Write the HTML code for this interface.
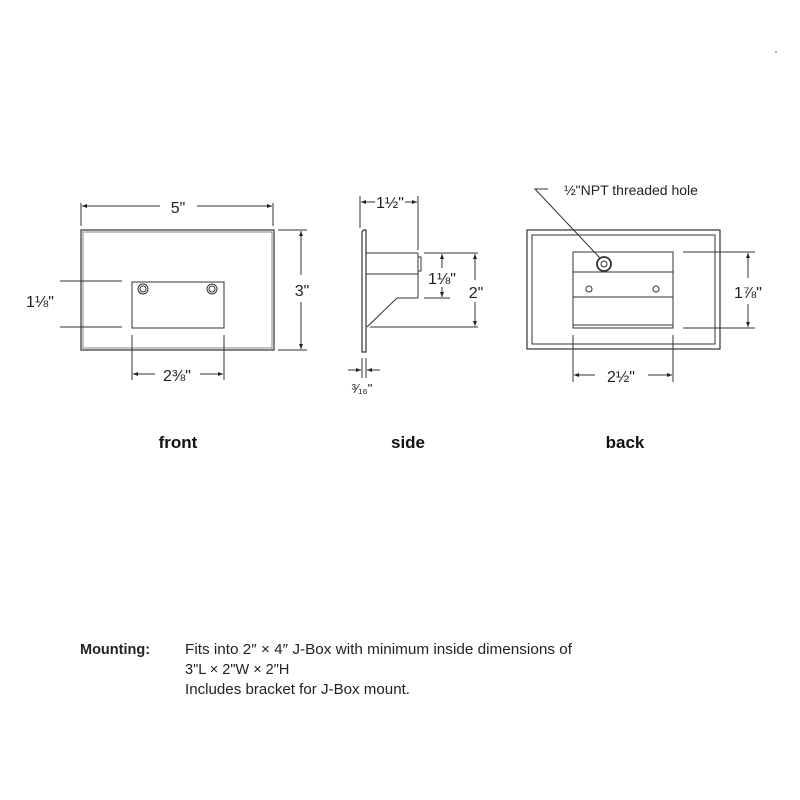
<!DOCTYPE html>
<html><head><meta charset="utf-8"><style>html,body{margin:0;padding:0;background:#fff}svg{display:block}</style></head><body>
<svg width="800" height="800" viewBox="0 0 800 800" xmlns="http://www.w3.org/2000/svg" font-family="Liberation Sans, sans-serif">
<defs>
<marker id="a" viewBox="0 0 10 10" refX="10" refY="5" markerWidth="7" markerHeight="5" orient="auto-start-reverse"><path d="M0,1 L10,5 L0,9 z" fill="#222"/></marker>
</defs>
<g stroke="#333" fill="none" stroke-width="1">
<rect x="81" y="230" width="193" height="120" stroke-width="1.2"/>
<rect x="83" y="232" width="189" height="116" stroke="#888" stroke-width="1"/>
<rect x="132" y="282" width="92" height="46"/>
<circle cx="143" cy="289" r="5"/><circle cx="143" cy="289" r="3"/>
<circle cx="212" cy="289" r="5"/><circle cx="212" cy="289" r="3"/>
<line x1="81" y1="203" x2="81" y2="226"/><line x1="273" y1="203" x2="273" y2="226"/>
<line x1="82" y1="206" x2="160" y2="206" marker-start="url(#a)"/>
<line x1="197" y1="206" x2="272" y2="206" marker-end="url(#a)"/>
<line x1="278" y1="230" x2="307" y2="230"/><line x1="278" y1="350" x2="307" y2="350"/>
<line x1="301" y1="231" x2="301" y2="275" marker-start="url(#a)"/>
<line x1="301" y1="302" x2="301" y2="349" marker-end="url(#a)"/>
<line x1="60" y1="281" x2="122" y2="281"/><line x1="60" y1="327" x2="122" y2="327"/>
<line x1="132" y1="335" x2="132" y2="380"/><line x1="224" y1="335" x2="224" y2="380"/>
<line x1="133" y1="374" x2="155" y2="374" marker-start="url(#a)"/>
<line x1="200" y1="374" x2="223" y2="374" marker-end="url(#a)"/>
<path d="M362,232 Q364,229 366,230 L366,352 L362,352 Z" stroke-width="1.2"/>
<line x1="366" y1="253" x2="418" y2="253"/><line x1="366" y1="274" x2="418" y2="274"/>
<line x1="418" y1="253" x2="418" y2="298"/>
<rect x="418" y="257" width="3" height="14"/>
<line x1="397" y1="298" x2="418" y2="298"/>
<line x1="397" y1="298" x2="367" y2="327"/>
<line x1="370" y1="327" x2="478" y2="327"/>
<line x1="360" y1="196" x2="360" y2="228"/><line x1="418" y1="196" x2="418" y2="250"/>
<line x1="361" y1="202" x2="375" y2="202" marker-start="url(#a)"/>
<line x1="405" y1="202" x2="417" y2="202" marker-end="url(#a)"/>
<line x1="424" y1="253" x2="478" y2="253"/><line x1="424" y1="298" x2="450" y2="298"/>
<line x1="442" y1="254" x2="442" y2="268" marker-start="url(#a)"/>
<line x1="442" y1="287" x2="442" y2="297" marker-end="url(#a)"/>
<line x1="475" y1="254" x2="475" y2="280" marker-start="url(#a)"/>
<line x1="475" y1="302" x2="475" y2="326" marker-end="url(#a)"/>
<line x1="362" y1="358" x2="362" y2="378"/><line x1="366" y1="358" x2="366" y2="378"/>
<line x1="348" y1="370" x2="361" y2="370" marker-end="url(#a)"/>
<line x1="380" y1="370" x2="367" y2="370" marker-end="url(#a)"/>
<rect x="527" y="230" width="193" height="119" stroke-width="1.2"/>
<rect x="532" y="235" width="183" height="109"/>
<rect x="573" y="252" width="100" height="76"/>
<line x1="573" y1="272" x2="673" y2="272"/><line x1="573" y1="297" x2="673" y2="297"/>
<line x1="573" y1="325" x2="673" y2="325"/>
<circle cx="604" cy="264" r="7" stroke-width="1.8"/><circle cx="604" cy="264" r="3"/>
<circle cx="589" cy="289" r="3"/><circle cx="656" cy="289" r="3"/>
<polyline points="548,189 535,189 600,258"/>
<line x1="683" y1="252" x2="755" y2="252"/><line x1="683" y1="328" x2="755" y2="328"/>
<line x1="748" y1="253" x2="748" y2="278" marker-start="url(#a)"/>
<line x1="748" y1="304" x2="748" y2="327" marker-end="url(#a)"/>
<line x1="573" y1="335" x2="573" y2="382"/><line x1="673" y1="335" x2="673" y2="382"/>
<line x1="574" y1="375" x2="595" y2="375" marker-start="url(#a)"/>
<line x1="648" y1="375" x2="672" y2="375" marker-end="url(#a)"/>
</g>
<g fill="#222" font-size="16" text-anchor="middle">
<text x="178" y="213">5"</text>
<text x="302" y="296">3"</text>
<text x="40" y="307">1⅛"</text>
<text x="177" y="381">2⅜"</text>
<text x="390" y="208">1½"</text>
<text x="442" y="284">1⅛"</text>
<text x="476" y="298">2"</text>
<text x="362" y="393" font-size="13">³⁄₁₆"</text>
<text x="748" y="298">1⅞"</text>
<text x="621" y="382">2½"</text>
<text x="564" y="195" text-anchor="start" font-size="14">½"NPT threaded hole</text>
</g>
<g fill="#111" font-size="17" font-weight="bold" text-anchor="middle">
<text x="178" y="448">front</text>
<text x="408" y="448">side</text>
<text x="625" y="448">back</text>
</g>
<g fill="#222" font-size="14.5">
<text x="80" y="654" font-weight="bold">Mounting:</text>
<text x="185" y="654" textLength="387" lengthAdjust="spacingAndGlyphs">Fits into 2″ × 4″ J-Box with minimum inside dimensions of</text>
<text x="185" y="674">3"L × 2"W × 2"H</text>
<text x="185" y="694" textLength="225" lengthAdjust="spacingAndGlyphs">Includes bracket for J-Box mount.</text>
</g>
<circle cx="776" cy="52" r="0.8" fill="#555"/>
</svg>
</body></html>
